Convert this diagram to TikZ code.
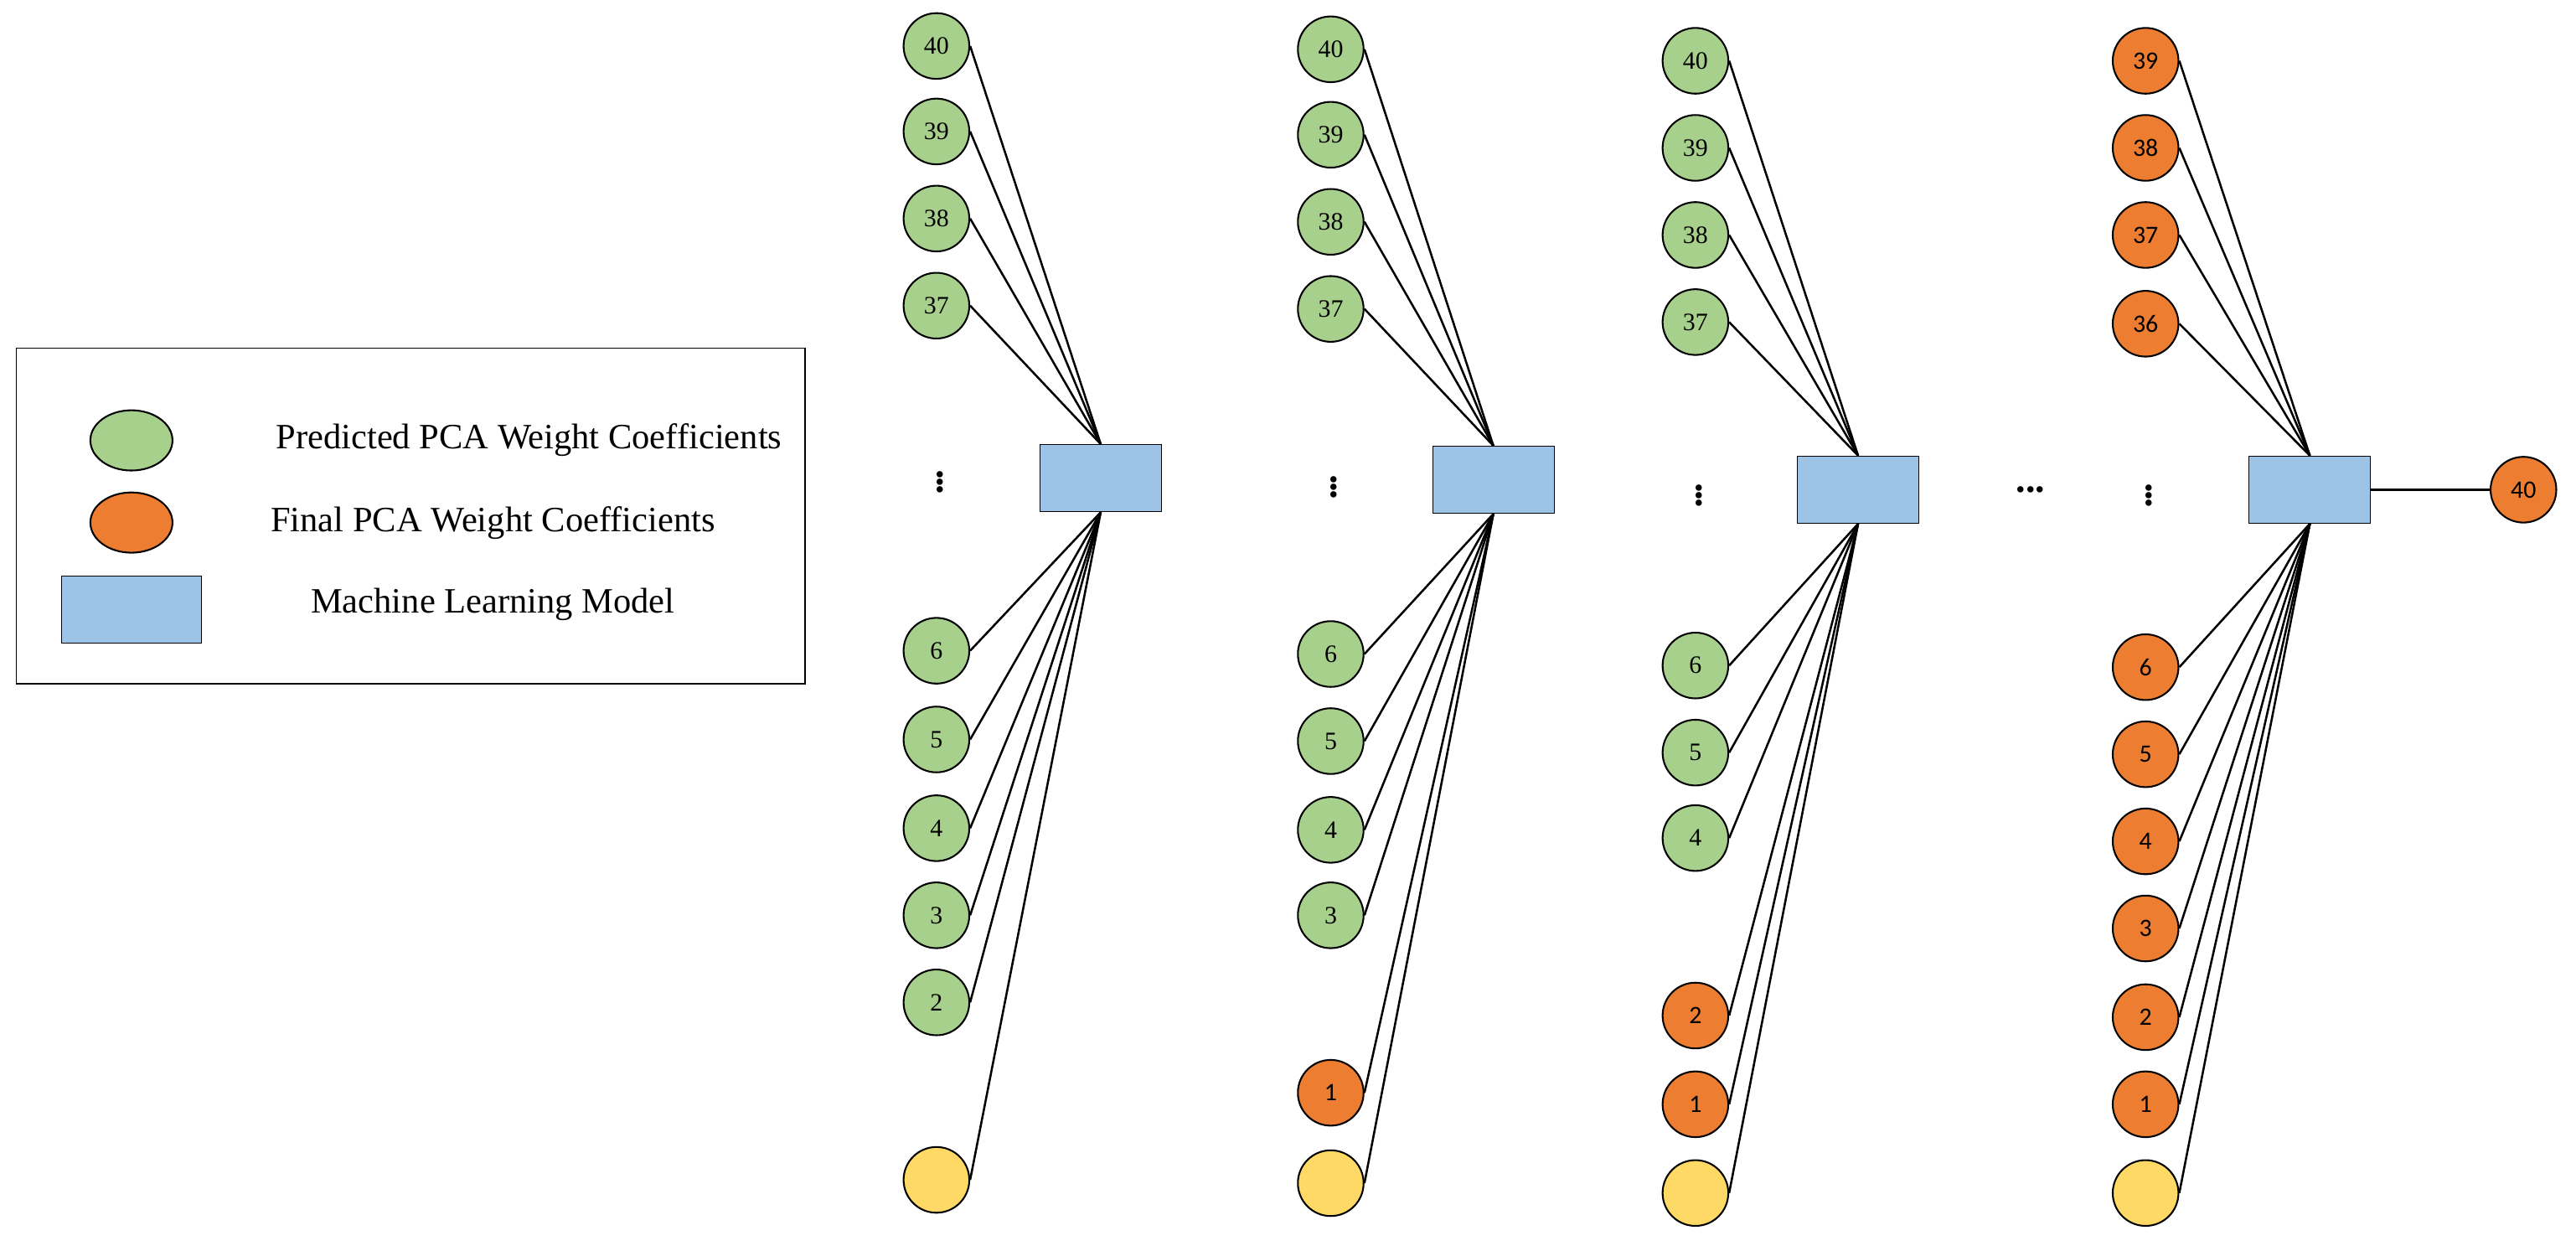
\documentclass[tikz,border=0pt]{standalone}
\usepackage{fontspec}
\setmainfont{Liberation Serif}
\newfontfamily\numsans{Carlito}
\usetikzlibrary{shapes.geometric}
\begin{document}
\begin{tikzpicture}[x=0.03cm, y=-0.03cm,
    coef/.style={circle, draw=black, line width=0.9pt, minimum size=1.2cm, inner sep=0pt, font=\fontsize{13}{15}\selectfont},
    pred/.style={coef, fill={rgb,255:red,168;green,208;blue,141}},
    fin/.style={coef, fill={rgb,255:red,237;green,125;blue,49}, font=\fontsize{13}{15}\selectfont\numsans},
    seed/.style={coef, fill={rgb,255:red,255;green,217;blue,102}},
    model/.style={rectangle, draw=black, fill={rgb,255:red,157;green,195;blue,230}, minimum width=2.22cm, minimum height=1.23cm, inner sep=0pt},
    key/.style={ellipse, draw=black, line width=0.9pt, minimum width=1.5cm, minimum height=1.1cm, inner sep=0pt},
    keytext/.style={font=\fontsize{18.5}{22}\selectfont},
    link/.style={line width=1.1pt},
    vdots/.style={inner sep=0pt, font=\fontsize{20}{20}\selectfont\bfseries}
]
\useasboundingbox (0,0) rectangle (1568,758);
% legend
\draw[line width=0.6pt] (10,212) rectangle (490,416);
\node[key, fill={rgb,255:red,168;green,208;blue,141}] (lgpred) at (80,268) {};
\node[key, fill={rgb,255:red,237;green,125;blue,49}] (lgfin) at (80,318) {};
\node[model, minimum width=2.55cm] (lgmodel) at (80,371) {};
\node[keytext] at (322,268) {Predicted PCA Weight Coefficients};
\node[keytext] at (300,318) {Final PCA Weight Coefficients};
\node[keytext] at (300,368) {Machine Learning Model};
% column 1
\node[model] (m1) at (670,291) {};
\foreach \n/\y in {40/28,39/80,38/133,37/186} {
  \node[pred] (a\n) at (570,\y) {\n};
  \draw[link] (a\n.east) -- (m1.north);
}
\foreach \n/\y in {6/396,5/450,4/504,3/557,2/610} {
  \node[pred] (a\n) at (570,\y) {\n};
  \draw[link] (a\n.east) -- (m1.south);
}
\node[seed] (a0) at (570,718) {};
\draw[link] (a0.east) -- (m1.south);
\node[vdots] (ad) at (572,290) {$\vdots$};
% column 2
\node[model] (m2) at (909,292) {};
\foreach \n/\y in {40/30,39/82,38/135,37/188} {
  \node[pred] (b\n) at (810,\y) {\n};
  \draw[link] (b\n.east) -- (m2.north);
}
\foreach \n/\y in {6/398,5/451,4/505,3/557} {
  \node[pred] (b\n) at (810,\y) {\n};
  \draw[link] (b\n.east) -- (m2.south);
}
\node[fin] (b1) at (810,665) {1};
\node[seed] (b0) at (810,720) {};
\draw[link] (b1.east) -- (m2.south);
\draw[link] (b0.east) -- (m2.south);
\node[vdots] (bd) at (812,293) {$\vdots$};
% column 3
\node[model] (m3) at (1131,298) {};
\foreach \n/\y in {40/37,39/90,38/143,37/196} {
  \node[pred] (c\n) at (1032,\y) {\n};
  \draw[link] (c\n.east) -- (m3.north);
}
\foreach \n/\y in {6/405,5/458,4/510} {
  \node[pred] (c\n) at (1032,\y) {\n};
  \draw[link] (c\n.east) -- (m3.south);
}
\foreach \n/\y in {2/618,1/672} {
  \node[fin] (c\n) at (1032,\y) {\n};
  \draw[link] (c\n.east) -- (m3.south);
}
\node[seed] (c0) at (1032,726) {};
\draw[link] (c0.east) -- (m3.south);
\node[vdots] (cd) at (1034,298) {$\vdots$};
\node[vdots] (gap) at (1236,298) {\textbf{...}};
% column 4
\node[model] (m4) at (1406,298) {};
\foreach \n/\y in {39/37,38/90,37/143,36/197} {
  \node[fin] (d\n) at (1306,\y) {\n};
  \draw[link] (d\n.east) -- (m4.north);
}
\foreach \n/\y in {6/406,5/459,4/512,3/565,2/619,1/672} {
  \node[fin] (d\n) at (1306,\y) {\n};
  \draw[link] (d\n.east) -- (m4.south);
}
\node[seed] (d0) at (1306,726) {};
\draw[link] (d0.east) -- (m4.south);
\node[vdots] (dd) at (1308,298) {$\vdots$};
\node[fin] (out) at (1536,298) {40};
\draw[link] (m4.east) -- (out.west);
\end{tikzpicture}
\end{document}
